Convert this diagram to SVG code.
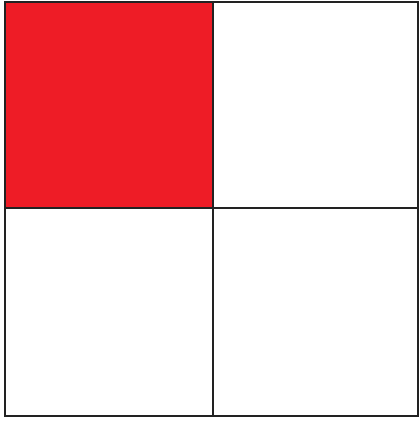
<svg xmlns="http://www.w3.org/2000/svg" width="419" height="421" viewBox="0 0 419 421">
<style>.c{stroke:#222;stroke-width:2;fill:#fff}</style>
<rect width="419" height="421" fill="#fff"/>
<g id="tl"><rect class="c" x="5" y="2" width="208" height="206" fill="#ee1c26" style="fill:#ee1c26"/></g>
<g id="tr"><rect class="c" x="213" y="2" width="205" height="206"/></g>
<g id="bl"><rect class="c" x="5" y="208" width="208" height="208"/></g>
<g id="br"><rect class="c" x="213" y="208" width="205" height="208"/></g>
<g id="connectors"></g>
</svg>
